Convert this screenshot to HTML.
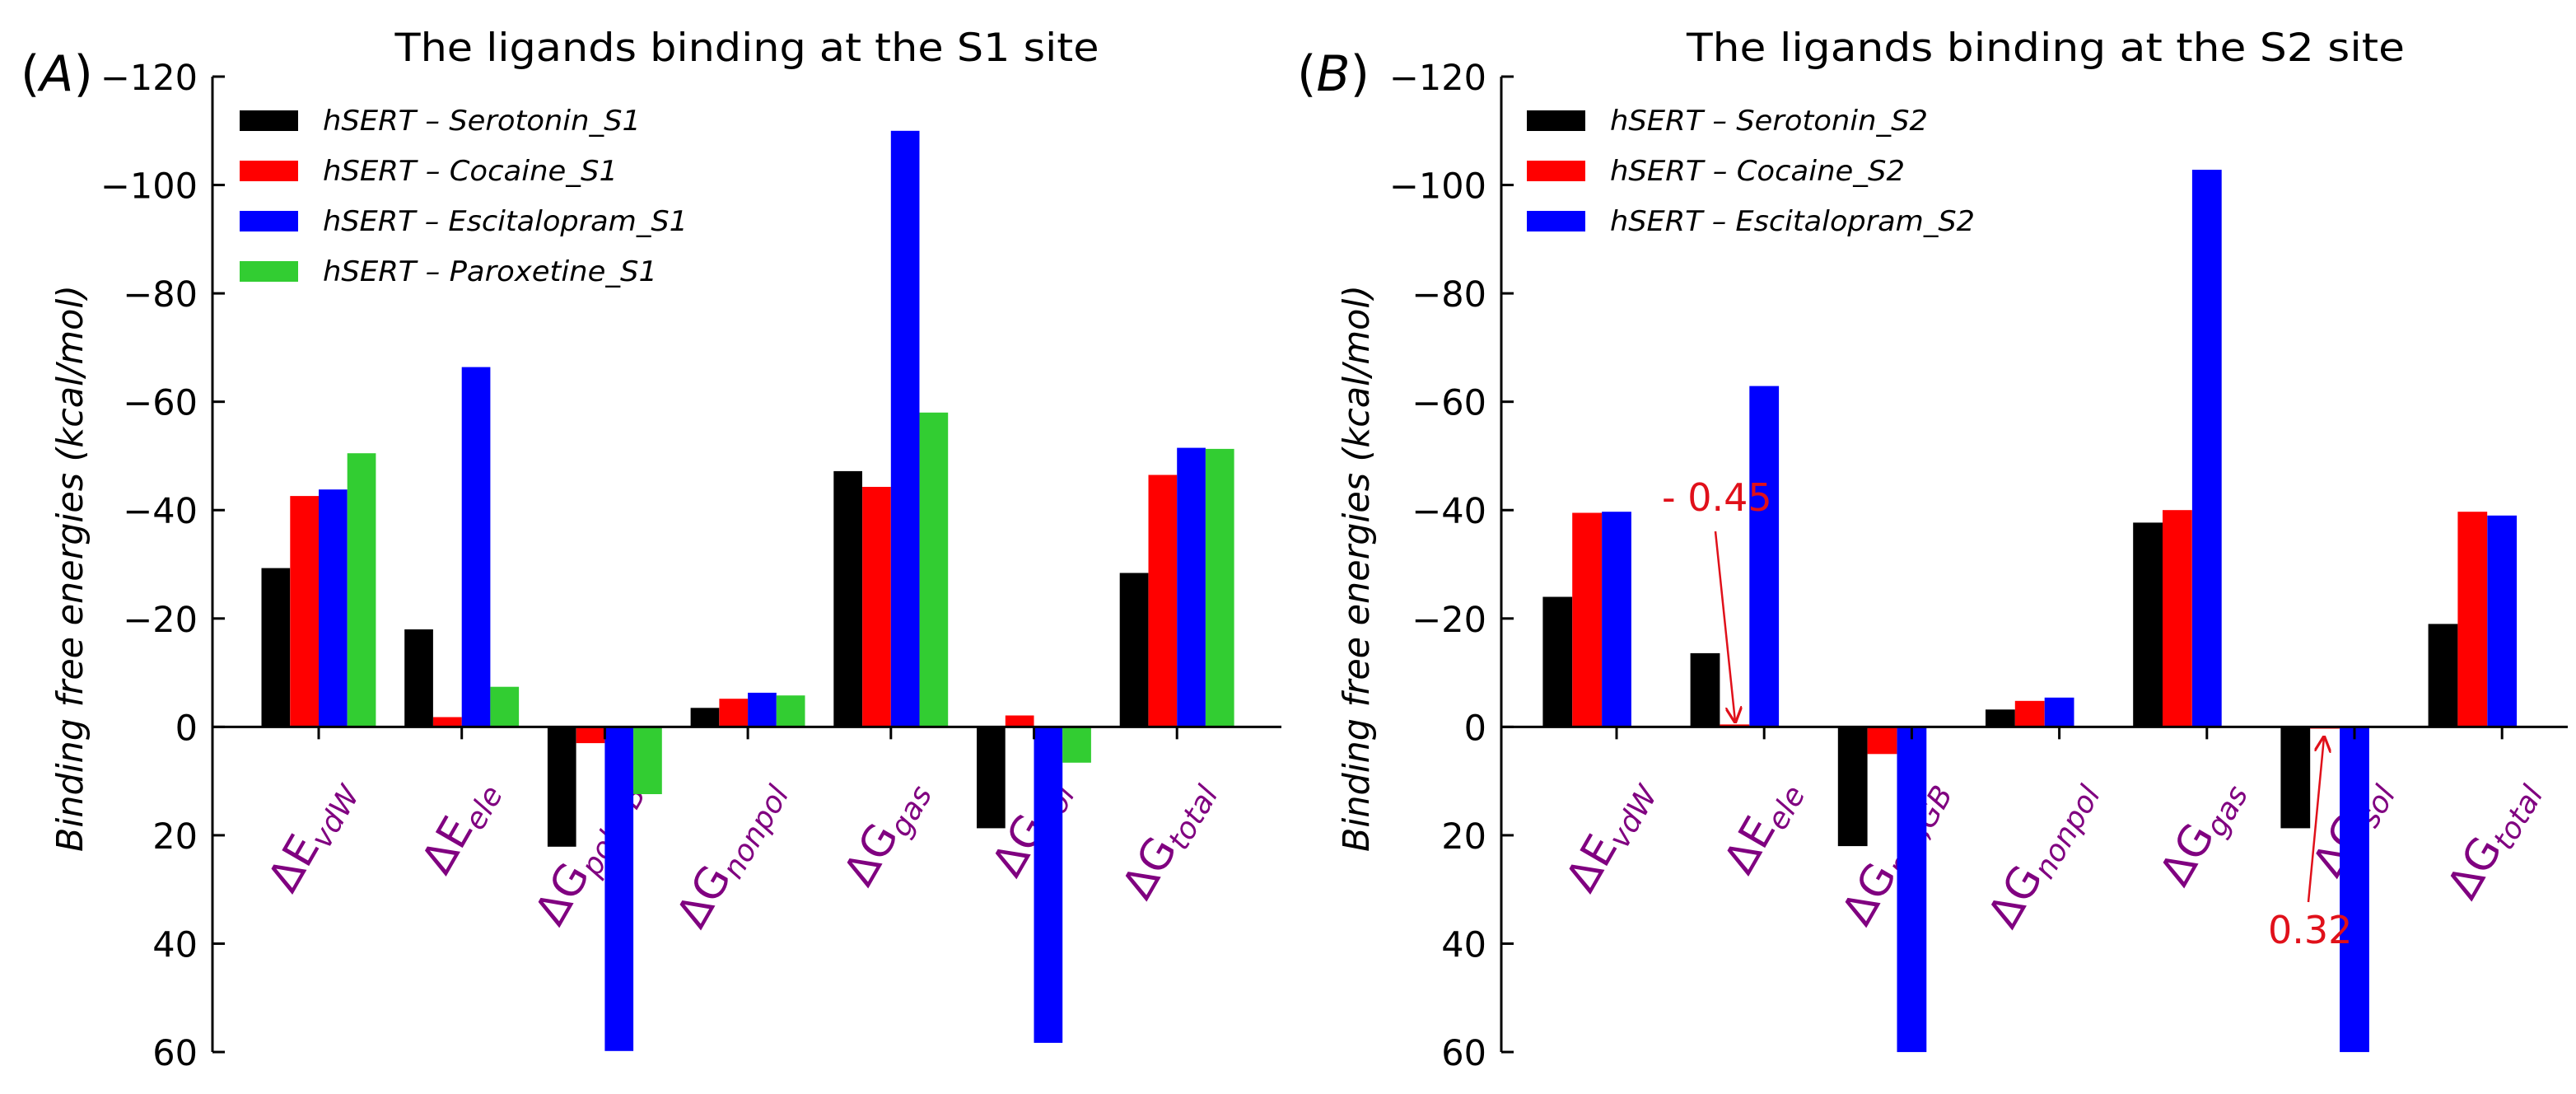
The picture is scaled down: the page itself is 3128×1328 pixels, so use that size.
<!DOCTYPE html>
<html><head><meta charset="utf-8"><style>
html,body{margin:0;padding:0;background:#fff;}
svg{display:block;font-family:"DejaVu Sans","Liberation Sans",sans-serif;}
</style></head><body>
<svg id="chart" width="3128" height="1328" viewBox="0 0 3128 1328" xmlns="http://www.w3.org/2000/svg">
<defs>
<marker id="arr" viewBox="0 0 10 10" refX="9" refY="5" markerWidth="8" markerHeight="8" orient="auto-start-reverse"><path d="M0,0 L10,5 L0,10" fill="none" stroke="#e0101a" stroke-width="1.6"/></marker>
</defs>
<g id="panelA"></g>
<g id="panelB"></g>
</svg>
<script>
const categories = ["E|vdW","E|ele","G|pol,GB","G|nonpol","G|gas","G|sol","G|total"];
const seriesA_names = ["hSERT \u2013 Serotonin_S1","hSERT \u2013 Cocaine_S1","hSERT \u2013 Escitalopram_S1","hSERT \u2013 Paroxetine_S1"];
const seriesA_serotonin = [-29.3,-18.0,22.1,-3.5,-47.2,18.7,-28.4];
const seriesA_cocaine = [-42.6,-1.8,3.0,-5.2,-44.3,-2.1,-46.5];
const seriesA_escitalopram = [-43.8,-66.4,59.8,-6.3,-110.0,58.3,-51.5];
const seriesA_paroxetine = [-50.5,-7.4,12.4,-5.8,-58.0,6.6,-51.3];
const seriesB_names = ["hSERT \u2013 Serotonin_S2","hSERT \u2013 Cocaine_S2","hSERT \u2013 Escitalopram_S2"];
const seriesB_serotonin = [-24.0,-13.6,22.0,-3.2,-37.7,18.7,-19.0];
const seriesB_cocaine = [-39.5,-0.45,5.0,-4.8,-40.0,0.32,-39.7];
const seriesB_escitalopram = [-39.7,-62.9,60.0,-5.4,-102.8,60.0,-39.0];
const yTicks = [-120,-100,-80,-60,-40,-20,0,20,40,60];
const legendWidths = [386,358,443,406];
const colors = ["#000000","#ff0000","#0000ff","#32cd32"];
const NS = "http://www.w3.org/2000/svg";

function mk(parent, tag, attrs){const e=document.createElementNS(NS,tag);for(const k in attrs)e.setAttribute(k,attrs[k]);parent.appendChild(e);return e;}

const Y0=93, YPX=6.578;
function yScale(v){return Y0+(v+120)*YPX;}

function panel(g, cfg){
  const xs = i => cfg.tick0 + i*cfg.spacing;
  const zeroY = yScale(0);
  const bw = 0.2*cfg.spacing;
  categories.forEach((c,i)=>{
    const [main,sub]=c.split("|");
    const tx=xs(i)+42, ty=958;
    const t=mk(g,"text",{x:tx,y:ty,"text-anchor":"end",fill:"#800080","font-size":"52",transform:`rotate(-60 ${tx} ${ty})`});
    
    
    const a=mk(t,"tspan",{}); a.textContent="\u0394"+main;
    const b=mk(t,"tspan",{"font-size":"36","font-style":"italic",dy:"10"}); b.textContent=sub;
  });
  cfg.series.forEach((vals,s)=>{
    vals.forEach((v,i)=>{
      const x=xs(i)+(cfg.offset+s*0.2)*cfg.spacing;
      const vy=Math.max(-120,Math.min(60,v));
      const y1=yScale(vy);
      const r=mk(g,"rect",{x:x.toFixed(1),y:Math.min(y1,zeroY).toFixed(1),width:bw.toFixed(1),height:Math.abs(y1-zeroY).toFixed(1),fill:colors[s]});
      
      
    });
  });
  const ya=mk(g,"line",{x1:cfg.ax,y1:yScale(-120),x2:cfg.ax,y2:yScale(60),stroke:"#000","stroke-width":3});
   
  const xa=mk(g,"line",{x1:cfg.ax,y1:zeroY,x2:cfg.axEnd,y2:zeroY,stroke:"#000","stroke-width":3});
   
  yTicks.forEach(v=>{
    const y=yScale(v);
    mk(g,"line",{x1:cfg.ax,y1:y,x2:cfg.ax+15,y2:y,stroke:"#000","stroke-width":3});
    const t=mk(g,"text",{x:cfg.ax-18,y:y+16,"text-anchor":"end","font-size":"43",fill:"#000"});
     
    t.textContent=(v<0?"\u2212":"")+Math.abs(v);
  });
  categories.forEach((c,i)=>{mk(g,"line",{x1:xs(i),y1:zeroY,x2:xs(i),y2:zeroY+15,stroke:"#000","stroke-width":3});});
  const ti=mk(g,"text",{x:cfg.titleX,y:74,"text-anchor":"middle","font-size":"47",textLength:cfg.titleW,lengthAdjust:"spacingAndGlyphs"});
   
  ti.textContent=cfg.title;
  const pl=mk(g,"text",{x:cfg.plX,y:110,"font-size":"60"});
   
  pl.innerHTML='(<tspan font-style="italic">'+cfg.plLetter+'</tspan>)';
  const yl=mk(g,"text",{x:cfg.ylX,y:690,"text-anchor":"middle","font-size":"44","font-style":"italic",transform:`rotate(-90 ${cfg.ylX} 690)`,textLength:"688",lengthAdjust:"spacingAndGlyphs"});
   
  yl.textContent="Binding free energies (kcal/mol)";
  cfg.names.forEach((n,s)=>{
    const cy=146+s*61;
    const r=mk(g,"rect",{x:cfg.legX,y:cy-12,width:71,height:25,fill:colors[s]});
     
    const t=mk(g,"text",{x:cfg.legX+101,y:cy+12,"font-size":"34","font-style":"italic",fill:"#000",textLength:legendWidths[s],lengthAdjust:"spacingAndGlyphs"});
     
    t.textContent=n;
  });
}

panel(document.getElementById("panelA"),{key:"a",tick0:387,spacing:173.7,offset:-0.4,ax:258,axEnd:1556,
  series:[seriesA_serotonin,seriesA_cocaine,seriesA_escitalopram,seriesA_paroxetine],names:seriesA_names,
  title:"The ligands binding at the S1 site",titleX:907,titleW:855,plX:25,plLetter:"A",ylX:100,legX:291});
panel(document.getElementById("panelB"),{key:"b",tick0:1963,spacing:179.2,offset:-0.5,ax:1823,axEnd:3118,
  series:[seriesB_serotonin,seriesB_cocaine,seriesB_escitalopram],names:seriesB_names,
  title:"The ligands binding at the S2 site",titleX:2484,titleW:872,plX:1575,plLetter:"B",ylX:1662,legX:1854});

const gb=document.getElementById("panelB");
const a1=mk(gb,"text",{x:2018,y:620,"font-size":"46",fill:"#e0101a"}); a1.textContent="- 0.45";
 
const l1=mk(gb,"line",{x1:2083,y1:645,x2:2107,y2:876,stroke:"#e0101a","stroke-width":2.5,"marker-end":"url(#arr)"});
 
const a2=mk(gb,"text",{x:2754,y:1145,"font-size":"46",fill:"#e0101a"}); a2.textContent="0.32";
 
const l2=mk(gb,"line",{x1:2803,y1:1095,x2:2822,y2:895,stroke:"#e0101a","stroke-width":2.5,"marker-end":"url(#arr)"});
 
</script>
</body></html>
